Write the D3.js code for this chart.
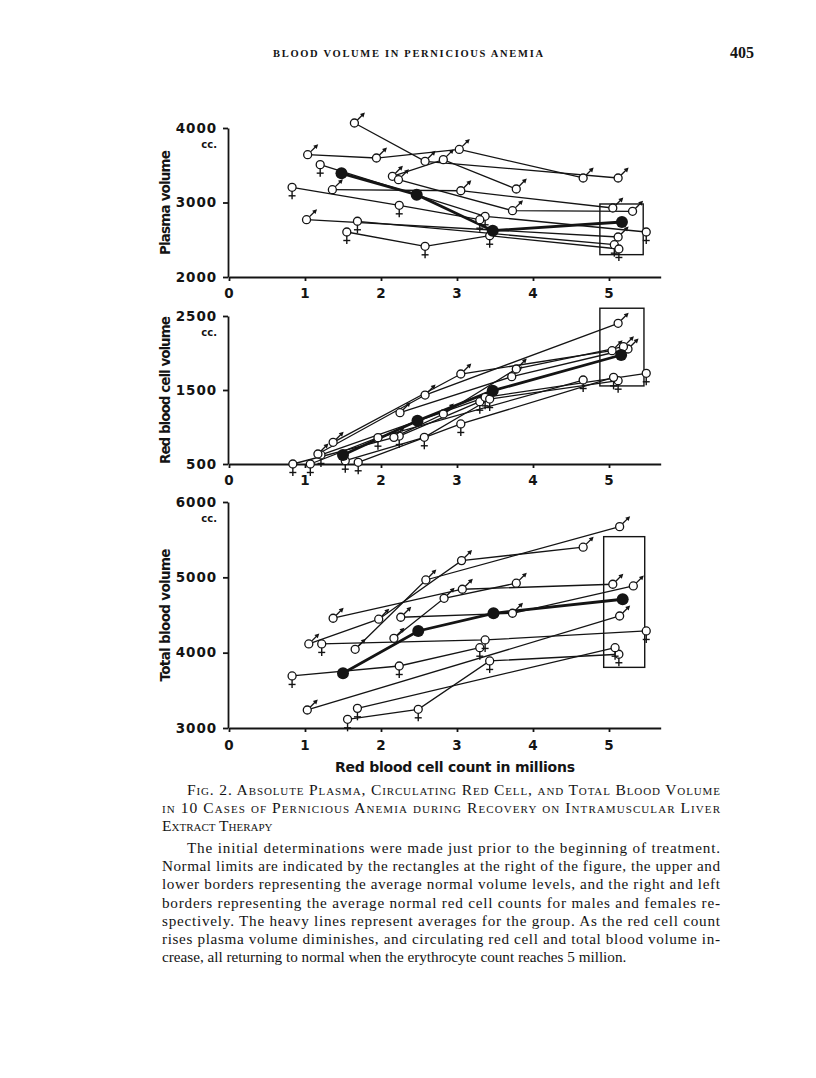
<!DOCTYPE html>
<html>
<head>
<meta charset="utf-8">
<script src="https://cdn.jsdelivr.net/npm/d3@7"></script>
<style>
  body { margin: 0; background: #fff; }
  svg { display: block; }
</style>
</head>
<body>
<div id="chart"></div>
<script>
// red cell count (millions) ticks, shared by the three panels
const rbcTicks = [0, 1, 2, 3, 4, 5]
const plasmaTicks = [2000, 3000, 4000]
const redCellTicks = [500, 1500, 2500]
const totalTicks = [3000, 4000, 5000, 6000]

// one entry per case: sex and [red cell count, volume] determinations
const plasmaCases = [
  { sex: 'm', pts: [[1.65, 4067], [2.58, 3553], [5.12, 3329]] },
  { sex: 'm', pts: [[1.035, 3642], [1.94, 3597], [3.03, 3712], [4.66, 3329]] },
  { sex: 'm', pts: [[2.15, 3352], [2.82, 3575], [3.78, 3181]] },
  { sex: 'm', pts: [[2.23, 3306], [3.73, 2890], [5.31, 2882]] },
  { sex: 'm', pts: [[1.36, 3172], [3.05, 3158], [5.05, 2926]] },
  { sex: 'f', pts: [[1.20, 3508], [3.37, 2815], [5.49, 2604]] },
  { sex: 'f', pts: [[0.83, 3204], [2.24, 2962], [3.30, 2769]] },
  { sex: 'm', pts: [[1.02, 2769], [5.12, 2537]] },
  { sex: 'f', pts: [[1.69, 2748], [5.07, 2434]] },
  { sex: 'f', pts: [[1.55, 2604], [2.58, 2412], [3.43, 2554], [5.13, 2376]] }
]
const plasmaAverage = [[1.48, 3392], [2.47, 3105], [3.47, 2622], [5.17, 2738]]
const plasmaNormal = { rbc: [4.88, 5.45], vol: [2300, 2980] }

const redCellCases = [
  { sex: 'f', pts: [[0.84, 500], [2.24, 878], [3.30, 1342]] },
  { sex: 'f', pts: [[1.21, 622], [3.37, 1401], [5.49, 1726]] },
  { sex: 'f', pts: [[1.53, 545], [2.57, 861], [3.43, 1378], [5.12, 1626]] },
  { sex: 'f', pts: [[1.70, 523], [3.05, 1041], [5.06, 1671]] },
  { sex: 'f', pts: [[1.07, 500], [1.96, 856], [4.66, 1635]] },
  { sex: 'm', pts: [[1.37, 793], [3.05, 1716], [5.04, 2031]] },
  { sex: 'm', pts: [[1.17, 635], [2.58, 1432], [5.12, 2401]] },
  { sex: 'm', pts: [[2.25, 1193], [3.72, 1680], [5.25, 2054]] },
  { sex: 'm', pts: [[2.17, 860], [2.82, 1176], [3.78, 1784], [5.19, 2085]] }
]
const redCellAverage = [[1.50, 622], [2.48, 1085], [3.47, 1491], [5.16, 1973]]
const redCellNormal = { rbc: [4.88, 5.46], vol: [1555, 2605] }

const totalCases = [
  { sex: 'f', pts: [[0.83, 3691], [2.24, 3823], [3.30, 4066]] },
  { sex: 'f', pts: [[1.22, 4116], [3.37, 4169], [5.49, 4288]] },
  { sex: 'f', pts: [[1.56, 3115], [2.49, 3248], [3.43, 3890], [5.13, 3979]] },
  { sex: 'f', pts: [[1.69, 3261], [5.08, 4066]] },
  { sex: 'm', pts: [[1.03, 3239], [5.14, 4487]] },
  { sex: 'm', pts: [[1.37, 4457], [3.07, 4842], [5.05, 4908]] },
  { sex: 'm', pts: [[1.05, 4116], [1.97, 4444], [3.06, 5222], [4.66, 5400]] },
  { sex: 'm', pts: [[1.66, 4045], [2.59, 4965], [5.14, 5673]] },
  { sex: 'm', pts: [[2.17, 4191], [2.83, 4722], [3.78, 4922]] },
  { sex: 'm', pts: [[2.26, 4470], [3.73, 4523], [5.32, 4886]] }
]
const totalAverage = [[1.50, 3726], [2.49, 4288], [3.48, 4523], [5.18, 4709]]
const totalNormal = { rbc: [4.93, 5.47], vol: [3805, 5540] }

const captionTitle = [
  'Fig. 2.  Absolute Plasma, Circulating Red Cell, and Total Blood Volume',
  'in 10 Cases of Pernicious Anemia during Recovery on Intramuscular Liver',
  'Extract Therapy'
]
const captionText = [
  'The initial determinations were made just prior to the beginning of treatment.',
  'Normal limits are indicated by the rectangles at the right of the figure, the upper and',
  'lower borders representing the average normal volume levels, and the right and left',
  'borders representing the average normal red cell counts for males and females re-',
  'spectively.  The heavy lines represent averages for the group.  As the red cell count',
  'rises plasma volume diminishes, and circulating red cell and total blood volume in-',
  'crease, all returning to normal when the erythrocyte count reaches 5 million.'
]

const ink = '#141414'
const sans = 'DejaVu Sans, sans-serif'
const serif = 'Liberation Serif, Times New Roman, serif'

const svg = d3.select('#chart')
  .append('svg')
  .attr('width', 816)
  .attr('height', 1078)

svg.append('rect').attr('width', 816).attr('height', 1078).attr('fill', '#fff')

// running head
svg.append('text')
  .attr('x', 273).attr('y', 57)
  .attr('textLength', 270).attr('lengthAdjust', 'spacing')
  .attr('font-family', serif).attr('font-weight', 'bold').attr('font-size', 10.5)
  .attr('fill', ink)
  .text('BLOOD VOLUME IN PERNICIOUS ANEMIA')
svg.append('text')
  .attr('x', 754).attr('y', 58).attr('text-anchor', 'end')
  .attr('font-family', serif).attr('font-weight', 'bold').attr('font-size', 16)
  .attr('fill', ink)
  .text('405')

const x = d3.scaleLinear().domain([0, 5.68]).range([229, 229 + 5.68 * 76])

const panels = [
  { cases: plasmaCases, avg: plasmaAverage, normal: plasmaNormal, ticks: plasmaTicks,
    title: 'Plasma volume', domain: [2000, 4000], range: [277, 128], titleLen: 105, labelPad: 7 },
  { cases: redCellCases, avg: redCellAverage, normal: redCellNormal, ticks: redCellTicks,
    title: 'Red blood cell volume', domain: [500, 2500], range: [464, 316], titleLen: 148, labelPad: 7 },
  { cases: totalCases, avg: totalAverage, normal: totalNormal, ticks: totalTicks,
    title: 'Total blood volume', domain: [3000, 6000], range: [728, 502], titleLen: 133, labelPad: 8 }
]

panels.forEach(function(p) {
  const y = d3.scaleLinear().domain(p.domain).range(p.range)
  const g = svg.append('g')
  const line = d3.line().x(d => x(d[0])).y(d => y(d[1]))

  // axes
  const yAxis = g.append('g')
    .attr('transform', 'translate(228,0)')
    .call(d3.axisLeft(y).tickValues(p.ticks).tickSize(5).tickSizeOuter(0)
      .tickPadding(6).tickFormat(d3.format('d')))
  const xAxis = g.append('g')
    .attr('transform', `translate(0,${p.range[0]})`)
    .call(d3.axisBottom(x).tickValues(rbcTicks).tickSize(4).tickSizeOuter(0)
      .tickPadding(p.labelPad).tickFormat(d3.format('d')))
  ;[yAxis, xAxis].forEach(function(a) {
    a.selectAll('path, line').attr('stroke', ink).attr('stroke-width', 1.8)
    a.selectAll('text')
      .attr('fill', ink)
      .attr('font-family', sans)
      .attr('font-weight', 'bold')
      .attr('font-size', 13.5)
      .attr('letter-spacing', 0.9)
  })

  // cc. under the top tick
  g.append('text')
    .attr('x', 217).attr('y', y(p.domain[1]) + 20)
    .attr('text-anchor', 'end')
    .attr('font-family', sans).attr('font-weight', 'bold').attr('font-size', 10)
    .attr('fill', ink)
    .text('cc.')

  // y title
  const midY = (y(p.domain[0]) + y(p.domain[1])) / 2
  g.append('text')
    .attr('transform', `translate(170,${midY}) rotate(-90)`)
    .attr('text-anchor', 'middle')
    .attr('textLength', p.titleLen).attr('lengthAdjust', 'spacing')
    .attr('font-family', sans).attr('font-weight', 'bold').attr('font-size', 13.5)
    .attr('fill', ink)
    .text(p.title)

  // normal limits rectangle
  g.append('rect')
    .attr('x', x(p.normal.rbc[0]))
    .attr('y', y(p.normal.vol[1]))
    .attr('width', x(p.normal.rbc[1]) - x(p.normal.rbc[0]))
    .attr('height', y(p.normal.vol[0]) - y(p.normal.vol[1]))
    .attr('fill', 'none')
    .attr('stroke', ink)
    .attr('stroke-width', 1.4)

  // case lines
  g.selectAll('.case')
    .data(p.cases)
    .enter().append('path')
    .attr('class', 'case')
    .attr('d', d => line(d.pts))
    .attr('fill', 'none')
    .attr('stroke', ink)
    .attr('stroke-width', 1.3)

  // heavy average line
  g.append('path')
    .attr('d', line(p.avg))
    .attr('fill', 'none')
    .attr('stroke', ink)
    .attr('stroke-width', 2.8)

  // points with sex signs
  const pts = []
  p.cases.forEach(c => c.pts.forEach(d => pts.push({ x: x(d[0]), y: y(d[1]), sex: c.sex })))

  const marks = g.selectAll('.pt')
    .data(pts)
    .enter().append('g')
    .attr('class', 'pt')
    .attr('transform', d => `translate(${d.x},${d.y})`)

  marks.filter(d => d.sex == 'm').each(function() {
    const m = d3.select(this)
    m.append('line')
      .attr('x1', 2.8).attr('y1', -2.8).attr('x2', 8).attr('y2', -8)
      .attr('stroke', ink).attr('stroke-width', 1.3)
    m.append('path')
      .attr('d', 'M10.5,-10.5 L5.6,-9 L9,-5.6 Z')
      .attr('fill', ink)
  })
  marks.filter(d => d.sex == 'f').each(function() {
    const m = d3.select(this)
    m.append('line')
      .attr('x1', 0).attr('y1', 4).attr('x2', 0).attr('y2', 12)
      .attr('stroke', ink).attr('stroke-width', 1.4)
    m.append('line')
      .attr('x1', -3.5).attr('y1', 8.5).attr('x2', 3.5).attr('y2', 8.5)
      .attr('stroke', ink).attr('stroke-width', 1.4)
  })
  marks.append('circle')
    .attr('r', 4)
    .attr('fill', '#fff')
    .attr('stroke', ink)
    .attr('stroke-width', 1.3)

  g.selectAll('.avg')
    .data(p.avg)
    .enter().append('circle')
    .attr('class', 'avg')
    .attr('cx', d => x(d[0]))
    .attr('cy', d => y(d[1]))
    .attr('r', 6)
    .attr('fill', ink)
})

// x title
svg.append('text')
  .attr('x', 335).attr('y', 772)
  .attr('textLength', 240).attr('lengthAdjust', 'spacing')
  .attr('font-family', sans).attr('font-weight', 'bold').attr('font-size', 14)
  .attr('fill', ink)
  .text('Red blood cell count in millions')

// caption
const titleLines = svg.selectAll('.cap-title')
  .data(captionTitle)
  .enter().append('text')
  .attr('class', 'cap-title')
  .attr('x', (d, i) => i == 0 ? 187 : 162)
  .attr('y', (d, i) => 795 + i * 18)
  .attr('font-family', serif)
  .attr('font-size', 15.5)
  .style('font-variant', 'small-caps')
  .attr('fill', ink)
  .text(d => d)
titleLines.filter((d, i) => i < 2)
  .attr('textLength', (d, i) => i == 0 ? 533 : 558)
  .attr('lengthAdjust', 'spacing')

svg.selectAll('.cap-text')
  .data(captionText)
  .enter().append('text')
  .attr('class', 'cap-text')
  .attr('x', (d, i) => i == 0 ? 187 : 162)
  .attr('y', (d, i) => 853 + i * 18.2)
  .attr('font-family', serif)
  .attr('font-size', 15.2)
  .attr('fill', ink)
  .attr('textLength', (d, i) => i == 0 ? 533 : (i == captionText.length - 1 ? null : 558))
  .attr('lengthAdjust', 'spacing')
  .text(d => d)
</script>
</body>
</html>
